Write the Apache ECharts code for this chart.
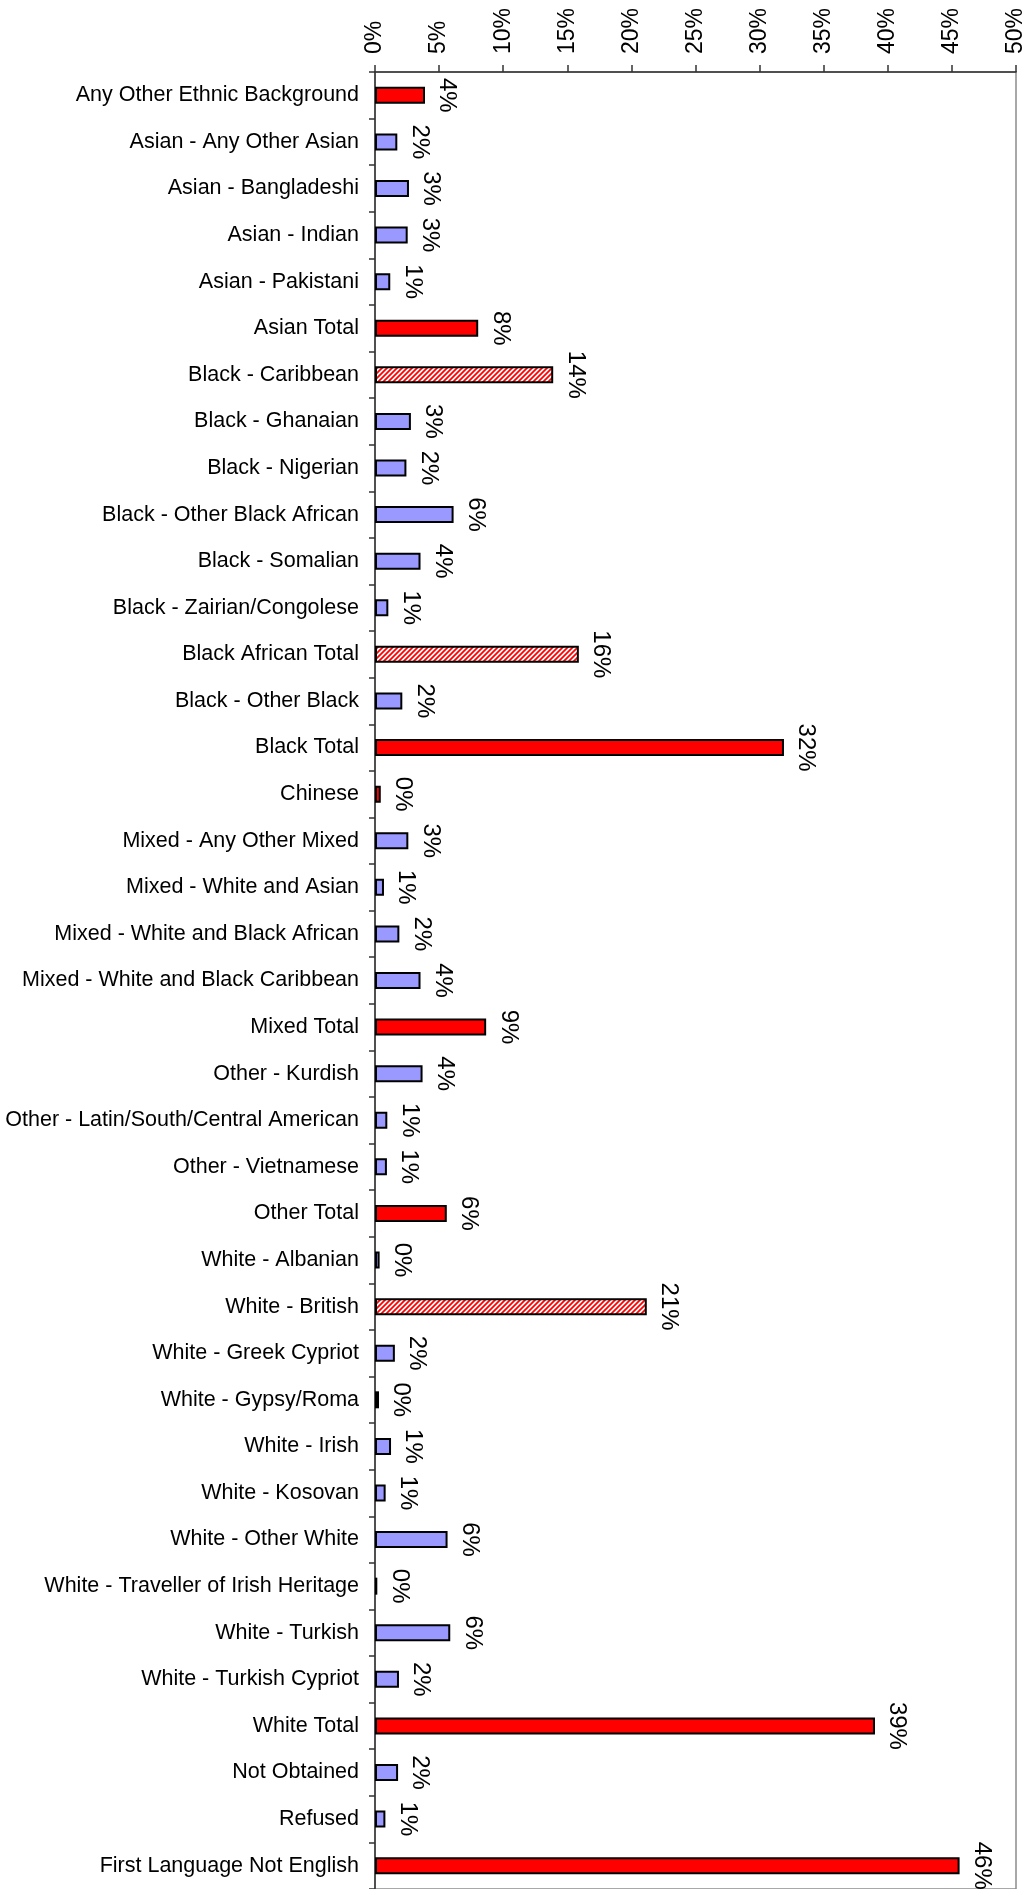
<!DOCTYPE html>
<html>
<head>
<meta charset="utf-8">
<script src="https://cdn.jsdelivr.net/npm/echarts@6/dist/echarts.min.js"></script>
<style>
  html, body { margin: 0; padding: 0; background: #fff; }
  #chart { width: 1035px; height: 1889px; }
</style>
</head>
<body>
<div id="chart"></div>
<script>
var categories = [
  'Any Other Ethnic Background', 'Asian - Any Other Asian', 'Asian - Bangladeshi', 'Asian - Indian',
  'Asian - Pakistani', 'Asian Total', 'Black - Caribbean', 'Black - Ghanaian', 'Black - Nigerian',
  'Black - Other Black African', 'Black - Somalian', 'Black - Zairian/Congolese', 'Black African Total',
  'Black - Other Black', 'Black Total', 'Chinese', 'Mixed - Any Other Mixed', 'Mixed - White and Asian',
  'Mixed - White and Black African', 'Mixed - White and Black Caribbean', 'Mixed Total', 'Other - Kurdish',
  'Other - Latin/South/Central American', 'Other - Vietnamese', 'Other Total', 'White - Albanian',
  'White - British', 'White - Greek Cypriot', 'White - Gypsy/Roma', 'White - Irish', 'White - Kosovan',
  'White - Other White', 'White - Traveller of Irish Heritage', 'White - Turkish', 'White - Turkish Cypriot',
  'White Total', 'Not Obtained', 'Refused', 'First Language Not English'
];
// share of pupils, percent
var shares = [3.9, 1.74, 2.65, 2.55, 1.19, 8.05, 13.9, 2.8, 2.45, 6.13, 3.55, 1.04, 15.9, 2.13, 31.9,
  0.45, 2.6, 0.7, 1.9, 3.55, 8.67, 3.71, 0.96, 0.93, 5.6, 0.36, 21.2, 1.55, 0.31, 1.25, 0.83, 5.66,
  0.18, 5.87, 1.87, 39.0, 1.8, 0.81, 45.6];
// total = group total, hatch = highlighted group, sub = sub group
var rowType = ['total', 'sub', 'sub', 'sub', 'sub', 'total', 'hatch', 'sub', 'sub', 'sub', 'sub', 'sub',
  'hatch', 'sub', 'total', 'total', 'sub', 'sub', 'sub', 'sub', 'total', 'sub', 'sub', 'sub', 'total',
  'sub', 'hatch', 'sub', 'sub', 'sub', 'sub', 'sub', 'sub', 'sub', 'sub', 'total', 'sub', 'sub', 'total'];
var xTicks = [0, 5, 10, 15, 20, 25, 30, 35, 40, 45, 50];

// red diagonal hatch on white
var tile = document.createElement('canvas');
tile.width = 5; tile.height = 5;
var ctx = tile.getContext('2d');
ctx.fillStyle = '#fff';
ctx.fillRect(0, 0, 5, 5);
ctx.strokeStyle = '#ff0000';
ctx.lineWidth = 1.8;
ctx.beginPath();
ctx.moveTo(-1, 6); ctx.lineTo(6, -1);
ctx.moveTo(-3.5, 3.5); ctx.lineTo(3.5, -3.5);
ctx.moveTo(1.5, 8.5); ctx.lineTo(8.5, 1.5);
ctx.stroke();

var fills = {
  total: '#ff0000',
  sub: '#9999ff',
  hatch: { image: tile, repeat: 'repeat' }
};

var barData = shares.map(function (v, i) {
  return { value: v, itemStyle: { color: fills[rowType[i]] } };
});

var font = "'Liberation Sans', Arial, Helvetica, sans-serif";
var chart = echarts.init(document.getElementById('chart'), null, { renderer: 'canvas' });
chart.setOption({
  animation: false,
  backgroundColor: '#fff',
  textStyle: { fontFamily: font },
  grid: {
    left: 375, right: 19, top: 72, bottom: 0,
    show: true, borderColor: '#8c8c8c', borderWidth: 1.5
  },
  xAxis: {
    type: 'value',
    position: 'top',
    min: xTicks[0],
    max: xTicks[xTicks.length - 1],
    interval: 5,
    axisLine: { show: true, lineStyle: { color: '#333', width: 1.5 } },
    axisTick: { show: true, length: 7, lineStyle: { color: '#333', width: 1.5 } },
    splitLine: { show: false },
    axisLabel: {
      rotate: -90,
      margin: 18,
      color: '#000',
      fontSize: 23,
      fontFamily: font,
      formatter: '{value}%'
    }
  },
  yAxis: {
    type: 'category',
    inverse: true,
    data: categories,
    axisLine: { show: true, lineStyle: { color: '#333', width: 1.5 } },
    axisTick: { show: true, length: 6, lineStyle: { color: '#333', width: 1.5 } },
    axisLabel: { color: '#000', fontSize: 21.5, fontFamily: font, margin: 16, interval: 0 }
  },
  series: [{
    type: 'bar',
    data: barData,
    barWidth: 17,
    itemStyle: { borderColor: '#000', borderWidth: 2 },
    label: {
      show: true,
      position: 'right',
      distance: 22,
      rotate: -90,
      align: 'center',
      verticalAlign: 'middle',
      color: '#000',
      fontSize: 24,
      fontFamily: font,
      formatter: function (p) { return Math.round(p.value) + '%'; }
    }
  }]
});
</script>
</body>
</html>
